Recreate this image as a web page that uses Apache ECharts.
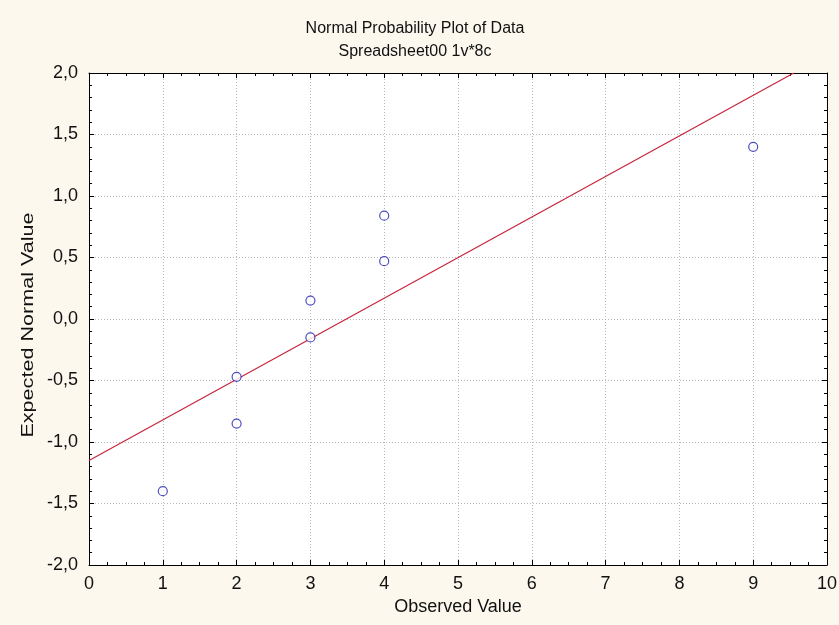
<!DOCTYPE html>
<html>
<head>
<meta charset="utf-8">
<script src="https://cdn.jsdelivr.net/npm/echarts@6/dist/echarts.min.js"></script>
<style>
html,body{margin:0;padding:0;background:#fcf8ee;}
#c{width:839px;height:625px;}
</style>
</head>
<body>
<div id="c"></div>
<script>
var observed = [1, 2, 2, 3, 3, 4, 4, 9];
var expected = [-1.40, -0.85, -0.47, -0.15, 0.15, 0.47, 0.84, 1.40];
var lineX = [0, 9.55];
var lineY = [-1.15, 2.0];
var titleText = 'Normal Probability Plot of Data';
var subtitleText = 'Spreadsheet00 1v*8c';
var xName = 'Observed Value';
var yName = 'Expected Normal Value';

var font = 'Liberation Sans, Arial, sans-serif';
var chart = echarts.init(document.getElementById('c'));
function fmtY(v){ return v.toFixed(1).replace('.', ','); }
var tickStyle = {show:true, inside:true, length:5, lineStyle:{color:'#000'}};
var gridLine = {show:true, lineStyle:{color:'#b8b8b8', type:[1,2], width:1}};
var axisLine = {show:true, onZero:false, lineStyle:{color:'#000', width:1}};

chart.setOption({
  backgroundColor:'#fcf8ee',
  animation:false,
  title:[
    {text:titleText, left:410, top:16, textAlign:'center',
     textStyle:{fontFamily:font, fontSize:16, fontWeight:'normal', color:'#111'}},
    {text:subtitleText, left:410, top:39, textAlign:'center',
     textStyle:{fontFamily:font, fontSize:16, fontWeight:'normal', color:'#111'}}
  ],
  graphic:[
    {type:'text', x:28, y:325, rotation:Math.PI/2, scaleX:1.27, scaleY:1,
     style:{text:yName, fontFamily:font, fontSize:17, fill:'#111',
            textAlign:'center', textVerticalAlign:'middle'}}
  ],
  grid:{left:89, right:12, top:73, bottom:60, show:true, backgroundColor:'#ffffff',
        borderWidth:0, containLabel:false, outerBoundsMode:'none'},
  xAxis:[
    {type:'value', min:0, max:10, interval:1, position:'bottom',
     name:xName, nameLocation:'middle', nameGap:33,
     nameTextStyle:{fontFamily:font, fontSize:18, color:'#111'},
     axisLine:axisLine, axisTick:tickStyle,
     minorTick:{show:true, splitNumber:4, length:3, lineStyle:{color:'#000'}},
     axisLabel:{fontFamily:font, fontSize:18, color:'#111', margin:10},
     splitLine:gridLine},
    {type:'value', min:0, max:10, interval:1, position:'top',
     axisLine:axisLine, axisTick:tickStyle,
     minorTick:{show:true, splitNumber:4, length:3, lineStyle:{color:'#000'}},
     axisLabel:{show:false}, splitLine:{show:false}}
  ],
  yAxis:[
    {type:'value', min:-2, max:2, interval:0.5, position:'left',
     axisLine:axisLine, axisTick:tickStyle,
     minorTick:{show:true, splitNumber:5, length:3, lineStyle:{color:'#000'}},
     axisLabel:{fontFamily:font, fontSize:18, color:'#111', margin:11, formatter:fmtY},
     splitLine:gridLine},
    {type:'value', min:-2, max:2, interval:0.5, position:'right',
     axisLine:axisLine, axisTick:tickStyle,
     minorTick:{show:true, splitNumber:5, length:3, lineStyle:{color:'#000'}},
     axisLabel:{show:false}, splitLine:{show:false}}
  ],
  series:[
    {type:'line', xAxisIndex:0, yAxisIndex:0,
     data:lineX.map(function(x,i){return [x, lineY[i]];}),
     symbol:'none', lineStyle:{color:'#c8243c', width:1.2}, silent:true, z:2},
    {type:'scatter', xAxisIndex:0, yAxisIndex:0,
     data:observed.map(function(x,i){return [x, expected[i]];}),
     symbol:'circle', symbolSize:9,
     itemStyle:{color:'#ffffff', borderColor:'#2222b4', borderWidth:1.2}, z:3}
  ]
});
</script>
</body>
</html>
